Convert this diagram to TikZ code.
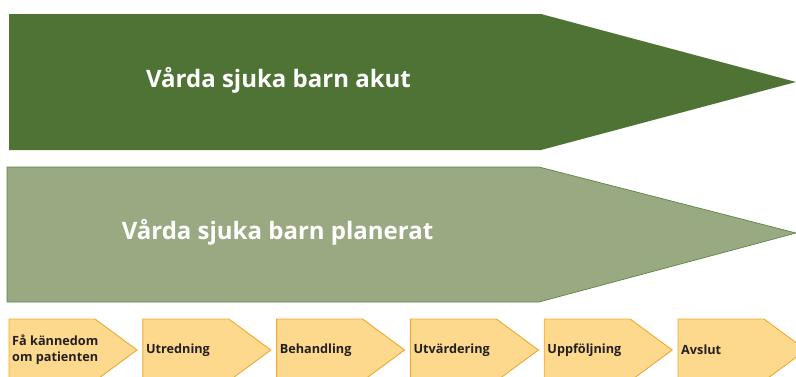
\documentclass[tikz,border=0pt]{standalone}
\usepackage{fontspec}
\setmainfont{Open Sans}
\definecolor{darkg}{HTML}{4E7335}
\definecolor{lightg}{HTML}{99AA83}
\definecolor{lightgb}{HTML}{5F8443}
\definecolor{chevfill}{HTML}{FDD98D}
\definecolor{chevline}{HTML}{F0A830}
\definecolor{txtdark}{HTML}{231F20}
\begin{document}
\begin{tikzpicture}[x=1pt,y=-1pt,
  chev/.style={fill=chevfill,draw=chevline,line width=0.9pt},
  chevtext/.style={anchor=west,font=\bfseries\fontsize{12.7}{16}\selectfont,text=txtdark,inner sep=0pt,align=left},
  bigtext/.style={font=\bfseries\fontsize{24}{28}\selectfont,text=white,inner sep=0pt}]
\useasboundingbox (0,0) rectangle (796,376);
\clip (0,0) rectangle (796,376);
% top arrow
\fill[darkg] (9,14) -- (541,14) -- (796,82) -- (541,150) -- (9,150) -- cycle;
\node[bigtext] (akut) at (278.5,80) {Vårda sjuka barn akut};
% second arrow
\draw[fill=lightg,draw=lightgb,line width=0.7pt] (7,167) -- (539,167) -- (796,233) -- (539,302) -- (7,302) -- cycle;
\node[bigtext] (plan) at (277.5,232) {Vårda sjuka barn planerat};
% chevrons
\foreach \i/\t in {0/{Få kännedom\\om patienten},1/Utredning,2/Behandling,3/Utvärdering,4/Uppföljning,5/Avslut}{
  \pgfmathsetmacro{\xx}{9+133.8*\i}
  \draw[chev] (\xx,319) -- ++(86,0) -- ++(42,31) -- ++(-42,31) -- ++(-86,0) -- cycle;
  \node[chevtext] (c\i) at (\xx+3,350) {\t};
}
\end{tikzpicture}
\end{document}
